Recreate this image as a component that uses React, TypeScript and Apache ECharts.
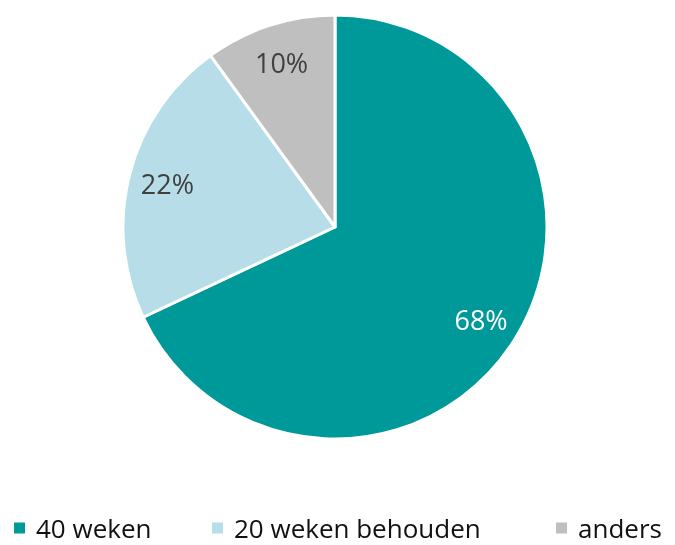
import React, { useEffect, useRef } from "react";
import * as echarts from "echarts";

const categories = ["40 weken", "20 weken behouden", "anders"];
const values = [68, 22, 10];
const colors = ["#009999", "#b7dde8", "#bfbfbf"];
const labelColors = ["#ffffff", "#404040", "#404040"];
const legendLefts = [12, 210, 554];

export default function App() {
  const ref = useRef<HTMLDivElement>(null);
  useEffect(() => {
    if (!ref.current) return;
    const chart = echarts.init(ref.current, null, { renderer: "svg" });
    const data = categories.map((name, i) => ({
      name,
      value: values[i],
      itemStyle: { color: colors[i] },
    }));
    const labelData = categories.map((name, i) => ({
      name,
      value: values[i],
      itemStyle: { color: "rgba(0,0,0,0)", borderWidth: 0 },
      label: { color: labelColors[i] },
    }));
    chart.setOption({
      animation: false,
      textStyle: { fontFamily: "Open Sans" },
      legend: categories.map((name, i) => ({
        data: [name],
        left: legendLefts[i],
        top: 515,
        padding: 0,
        itemWidth: 13,
        itemHeight: 13,
        itemGap: 10,
        icon: "rect",
        textStyle: {
          fontSize: 26,
          lineHeight: 26,
          color: "#111",
          fontFamily: "Open Sans",
          padding: [0, 0, 0, 5],
        },
      })),
      series: [
        {
          type: "pie",
          center: [335, 227],
          radius: [0, 212],
          startAngle: 90,
          clockwise: true,
          data,
          label: { show: false },
          labelLine: { show: false },
          itemStyle: { borderColor: "#ffffff", borderWidth: 3 },
          emphasis: { disabled: true },
        },
        {
          type: "pie",
          center: [335, 227],
          radius: [128, 212],
          startAngle: 90,
          clockwise: true,
          data: labelData,
          silent: true,
          legendHoverLink: false,
          label: {
            show: true,
            position: "inside",
            formatter: "{c}%",
            fontSize: 27,
            fontFamily: "Open Sans",
          },
          labelLine: { show: false },
          emphasis: { disabled: true },
        },
      ],
    });
    return () => chart.dispose();
  }, []);
  return (
    <div
      ref={ref}
      style={{ position: "fixed", left: 0, top: 0, width: 675, height: 545 }}
    />
  );
}
